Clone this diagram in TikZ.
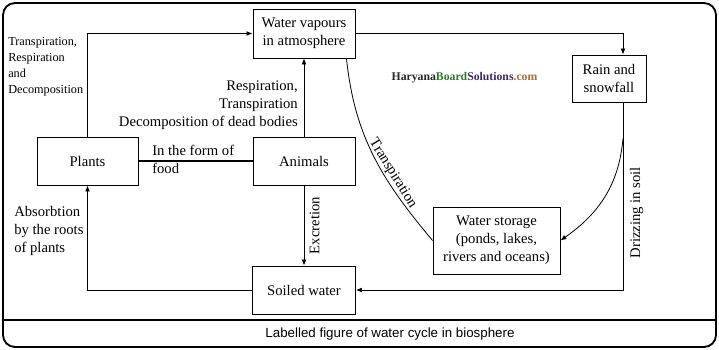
\documentclass[tikz,border=0pt]{standalone}
\usepackage{fontspec}
\setmainfont{Liberation Serif}
\newfontfamily\captionfont{Liberation Sans}
\usetikzlibrary{arrows.meta,positioning,calc}

\definecolor{wmgrey}{HTML}{262626}
\definecolor{wmgreen}{HTML}{2A7A2A}
\definecolor{wmpurple}{HTML}{3A2A5A}
\definecolor{wmbrown}{HTML}{A07030}

\begin{document}
\begin{tikzpicture}[
  x=0.75pt, y=-0.75pt,
  font=\fontsize{11}{13.5}\selectfont,
  >=Latex,
  arrow/.style={-{Latex[length=4.5pt,width=3.6pt]}, line width=0.6pt, draw=black},
  link/.style={line width=0.6pt, draw=black},
  stage/.style={draw=black, line width=0.7pt, align=center, inner sep=2pt},
  note/.style={inner sep=0pt},
  frame/.style={draw=black, line width=1.4pt, rounded corners=9pt}
]
\useasboundingbox (0,0) rectangle (719,350);

% outer frame and caption strip
\draw[frame] (3,3) rectangle (716,347);
\draw[line width=1.2pt] (3,320) -- (716,320);
\node[note, font=\captionfont\fontsize{10}{12}\selectfont] (caption) at (390,334) {Labelled figure of water cycle in biosphere};

% stages of the cycle
\node[stage, minimum width=76.5pt, minimum height=36.75pt] (vapour) at (304,33.5) {Water vapours\\in atmosphere};
\node[stage, minimum width=55.5pt, minimum height=35.25pt] (rain) at (609,78.5) {Rain and\\snowfall};
\node[stage, minimum width=75.75pt, minimum height=36pt] (plants) at (87.5,161) {Plants};
\node[stage, minimum width=76.5pt, minimum height=36pt] (animals) at (304,161) {Animals};
\node[stage, minimum width=77.25pt, minimum height=36pt] (soiled) at (304,290) {Soiled water};
\node[stage, minimum width=95.25pt, minimum height=50.25pt] (storage) at (496.5,240.5) {Water storage\\(ponds, lakes,\\rivers and oceans)};

% watermark
\node[note, font=\bfseries\fontsize{8.8}{10}\selectfont] (mark) at (464.5,78) {\textcolor{wmgrey}{Haryana}\textcolor{wmgreen}{Board}\textcolor{wmpurple}{Solutions}\textcolor{wmbrown}{.com}};

% free labels
\node[note, anchor=north west, align=left, font=\fontsize{9.2}{12}\selectfont] (givenoff) at (8,37) {Transpiration,\\Respiration\\and\\Decomposition};
\node[note, anchor=north east, align=right] (animalvap) at (298,81) {Respiration,\\Transpiration\\Decomposition of dead bodies};
\node[note, anchor=north west, align=left] (absorb) at (14,206) {Absorbtion\\by the roots\\of plants};
\node[note, anchor=north west, align=left] (food) at (152,145) {In the form of\\food};

% connectors
\draw[arrow] (plants.north) |- (vapour.west);
\draw[arrow] (animals.north) -- (vapour.south);
\draw[arrow] (vapour.east) -| ($(rain.north)+(14,0)$);
\draw[line width=1pt] (plants.east) -- (animals.west);
\draw[arrow] (animals.south) -- node[rotate=90, anchor=north, inner sep=4pt] {Excretion} (soiled.north);
\draw[arrow] (soiled.west) -| (plants.south);
\draw[arrow] ($(rain.south)+(14,0)$) coordinate (drip) |- node[pos=0.294, rotate=90, anchor=north, inner sep=5pt] {Drizzing in soil} (soiled.east);
\coordinate (bend) at ($(drip)+(0,36)$);
\draw[arrow] (bend) to[out=-95, in=35] (storage.east);
\draw[link] ($(vapour.south east)+(-9,0)$) to[out=-84, in=130] node[sloped, above, pos=0.63, inner sep=1pt] {Transpiration} (storage.west);

\end{tikzpicture}
\end{document}
